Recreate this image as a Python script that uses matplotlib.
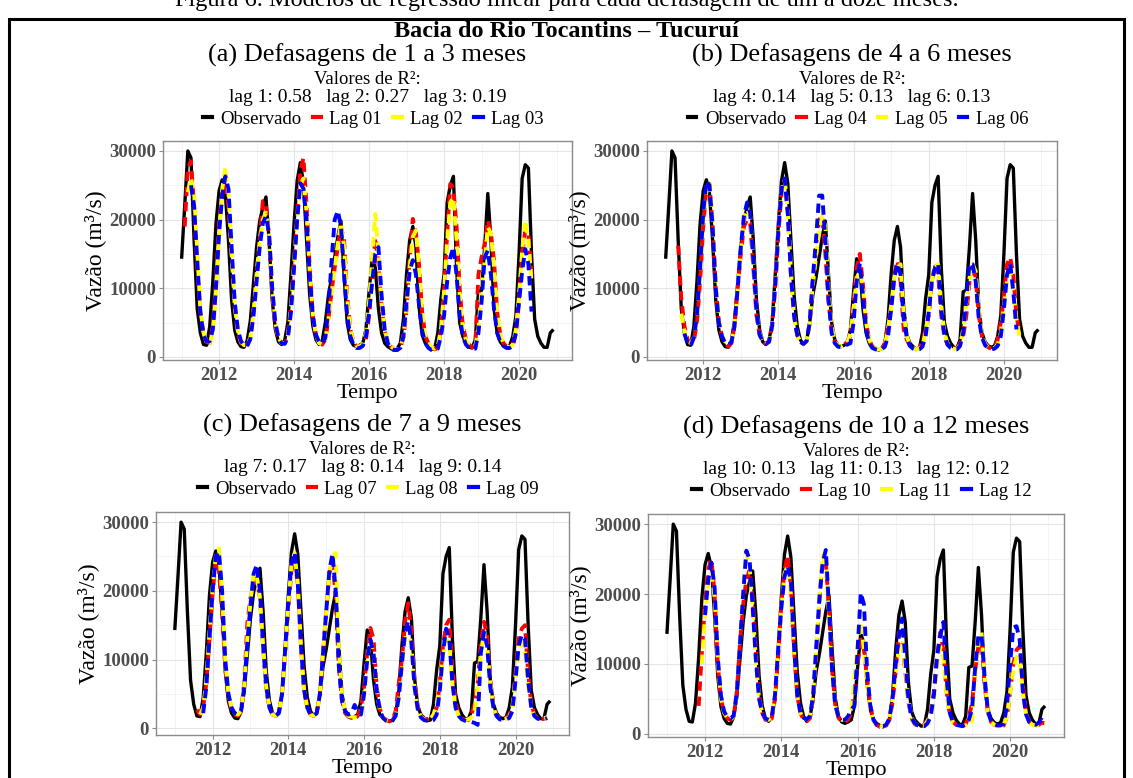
import numpy as np
import matplotlib
matplotlib.use("Agg")
import matplotlib.pyplot as plt
from matplotlib.lines import Line2D
from matplotlib.patches import Rectangle

plt.rcParams['font.family'] = ['Liberation Serif', 'DejaVu Serif']

N = np.nan
# monthly flow, thousands of m3/s, Jan 2011 .. Dec 2020 (one row per year)
obs = [
    [14.3, 22.0, 30.0, 29.0, 17.0, 7.0, 3.5, 1.8, 1.7, 4.4, 11.0, 19.4],
    [24.2, 25.8, 23.8, 17.0, 8.3, 3.9, 2.2, 1.5, 1.4, 2.4, 5.3, 10.7],
    [16.0, 19.8, 21.8, 23.3, 17.0, 8.3, 4.0, 2.2, 1.8, 2.4, 5.0, 12.0],
    [19.5, 25.7, 28.3, 25.3, 17.0, 9.0, 4.5, 2.5, 1.8, 2.3, 5.0, 9.0],
    [11.5, 14.5, 17.5, 19.8, 12.0, 5.0, 2.5, 1.7, 1.5, 1.7, 2.0, 4.0],
    [9.5, 14.3, 13.0, 7.0, 3.5, 2.0, 1.5, 1.2, 1.0, 1.2, 2.0, 5.5],
    [12.1, 17.0, 19.0, 16.0, 7.3, 3.2, 2.0, 1.5, 1.1, 1.2, 3.5, 8.5],
    [12.0, 22.5, 25.0, 26.3, 13.0, 5.0, 3.0, 2.0, 1.4, 1.3, 2.5, 9.5],
    [9.7, 16.0, 23.8, 17.0, 7.0, 3.5, 2.2, 1.6, 1.4, 1.6, 3.0, 6.0],
    [15.0, 26.0, 28.0, 27.5, 15.0, 5.5, 3.0, 2.0, 1.4, 1.4, 3.5, 4.0],
]

lag01 = [
    [N, 19.0, 27.5, 28.5, 22.0, 13.0, 6.5, 3.5, 2.2, 2.0, 4.5, 11.0],
    [19.5, 24.0, 25.0, 22.0, 14.5, 7.0, 3.5, 2.0, 1.6, 1.7, 3.0, 6.5],
    [12.0, 17.0, 22.7, 22.0, 17.5, 9.0, 4.5, 2.5, 2.0, 2.0, 3.0, 7.5],
    [14.0, 21.0, 27.0, 29.0, 22.0, 13.0, 6.0, 3.2, 2.0, 1.8, 2.5, 5.5],
    [9.5, 13.0, 16.0, 19.0, 17.0, 9.0, 4.0, 2.2, 1.6, 1.5, 1.8, 2.5],
    [6.0, 11.5, 17.4, 13.5, 7.5, 3.8, 2.2, 1.5, 1.2, 1.0, 1.3, 2.8],
    [7.0, 14.5, 20.1, 18.0, 13.5, 6.5, 3.0, 2.0, 1.4, 1.1, 1.3, 4.0],
    [9.5, 18.0, 25.2, 24.5, 19.0, 10.0, 4.5, 2.6, 1.8, 1.4, 1.5, 12.0],
    [14.5, 16.5, 19.9, 18.0, 14.0, 6.5, 3.2, 2.0, 1.5, 1.4, 1.7, 3.5],
    [8.5, 15.0, 18.5, 18.0, 12.0, N, N, N, N, N, N, N],
]
lag02 = [
    [N, N, 24.0, 26.0, 24.0, 15.5, 7.0, 3.5, 2.2, 2.0, 3.5, 9.0],
    [17.5, 24.5, 27.6, 24.0, 15.0, 7.5, 3.8, 2.2, 1.7, 1.7, 2.8, 6.5],
    [12.0, 17.0, 20.0, 21.0, 18.0, 10.0, 5.0, 2.8, 2.0, 2.0, 3.0, 7.0],
    [13.5, 20.0, 25.0, 26.0, 21.0, 12.5, 6.0, 3.2, 2.0, 1.8, 2.5, 5.5],
    [9.0, 13.0, 16.5, 19.5, 16.0, 8.5, 4.0, 2.2, 1.6, 1.5, 1.9, 3.5],
    [8.0, 14.5, 20.8, 15.0, 8.0, 4.0, 2.2, 1.5, 1.2, 1.0, 1.4, 3.0],
    [7.5, 13.0, 17.5, 18.4, 13.0, 6.5, 3.0, 2.0, 1.4, 1.2, 1.5, 4.0],
    [9.5, 17.0, 22.5, 23.2, 17.0, 9.0, 4.2, 2.5, 1.7, 1.4, 1.6, 4.0],
    [10.0, 14.0, 18.9, 18.0, 13.0, 6.5, 3.2, 2.0, 1.5, 1.4, 1.8, 4.0],
    [9.0, 15.5, 19.9, 17.0, 11.0, N, N, N, N, N, N, N],
]
lag03 = [
    [N, N, N, 25.0, 22.0, 14.0, 6.5, 3.2, 2.3, 2.3, 4.0, 10.0],
    [18.0, 23.5, 26.3, 24.5, 16.0, 8.0, 4.0, 2.3, 1.7, 1.6, 2.6, 6.0],
    [11.0, 16.0, 19.5, 20.5, 18.0, 10.0, 5.0, 2.8, 2.0, 1.9, 2.8, 6.5],
    [13.0, 20.0, 25.3, 24.5, 20.0, 12.0, 6.0, 3.2, 2.2, 1.9, 2.8, 7.0],
    [14.0, 20.0, 21.3, 19.0, 12.0, 6.0, 3.0, 1.8, 1.3, 1.3, 1.6, 3.0],
    [6.5, 11.0, 15.0, 16.0, 9.0, 4.0, 2.0, 1.2, 1.0, 1.0, 1.3, 3.0],
    [8.0, 12.5, 14.1, 12.0, 7.5, 3.8, 2.0, 1.3, 1.0, 1.0, 1.2, 3.0],
    [6.0, 11.0, 14.5, 16.0, 12.0, 6.0, 3.0, 1.8, 1.3, 1.1, 1.2, 3.5],
    [8.0, 14.5, 15.5, 12.0, 7.0, 3.5, 2.2, 1.6, 1.3, 1.3, 1.6, 3.5],
    [8.0, 12.5, 15.7, 13.5, 6.6, N, N, N, N, N, N, N],
]
lag04 = [
    [N, N, N, N, 16.2, 8.5, 4.5, 2.5, 2.0, 2.3, 5.0, 11.0],
    [19.0, 24.5, 25.2, 19.0, 10.0, 5.0, 3.0, 2.0, 1.5, 2.0, 4.5, 10.0],
    [15.0, 19.0, 20.0, 19.5, 13.0, 6.0, 3.2, 2.2, 1.9, 2.2, 4.5, 10.5],
    [18.0, 24.0, 25.8, 21.0, 12.0, 6.0, 3.2, 2.2, 1.9, 2.3, 5.0, 11.0],
    [16.0, 20.0, 20.5, 15.0, 8.0, 4.0, 2.3, 1.6, 1.5, 1.8, 2.2, 3.0],
    [8.0, 13.0, 15.0, 10.5, 5.0, 2.5, 1.5, 1.2, 1.1, 1.2, 2.0, 4.5],
    [7.0, 12.0, 14.0, 11.0, 4.0, 2.5, 1.6, 1.2, 1.1, 1.3, 2.2, 4.0],
    [6.0, 11.0, 13.5, 12.0, 6.0, 3.0, 1.8, 1.4, 1.2, 1.3, 2.0, 3.0],
    [6.0, 11.0, 13.5, 11.5, 6.0, 3.0, 1.8, 1.4, 1.2, 1.5, 2.5, 5.0],
    [9.0, 13.5, 14.5, 12.0, 6.0, 3.5, N, N, N, N, N, N],
]
lag05 = [
    [N, N, N, N, N, 6.3, 3.8, 2.3, 2.0, 2.8, 5.5, 12.0],
    [20.0, 24.0, 25.6, 20.5, 11.0, 5.5, 3.2, 2.2, 1.9, 2.2, 4.5, 10.0],
    [15.5, 20.0, 21.5, 20.5, 14.0, 6.5, 3.5, 2.2, 1.9, 2.2, 4.5, 10.5],
    [18.5, 24.5, 25.8, 21.5, 12.5, 6.0, 3.2, 2.2, 1.9, 2.3, 5.0, 10.5],
    [14.5, 18.5, 20.5, 19.0, 10.0, 4.5, 2.3, 1.6, 1.5, 1.7, 2.0, 3.5],
    [7.0, 11.5, 12.5, 10.0, 5.0, 2.5, 1.5, 1.2, 1.1, 1.2, 1.8, 4.0],
    [7.5, 11.5, 13.0, 13.5, 6.5, 3.0, 1.7, 1.3, 1.1, 1.2, 1.8, 3.5],
    [7.0, 11.0, 13.0, 13.5, 7.5, 3.5, 2.0, 1.4, 1.2, 1.2, 1.7, 4.0],
    [8.0, 11.5, 13.5, 12.5, 7.0, 3.2, 1.9, 1.4, 1.2, 1.3, 1.8, 3.5],
    [7.5, 11.0, 12.5, 10.0, 5.5, 3.0, 2.5, N, N, N, N, N],
]
lag06 = [
    [N, N, N, N, N, N, 3.4, 2.0, 1.6, 2.8, 6.0, 13.0],
    [21.0, 25.6, 25.0, 19.0, 10.0, 5.0, 3.0, 2.0, 1.8, 2.1, 4.5, 10.0],
    [16.0, 20.5, 22.5, 21.0, 14.0, 6.5, 3.3, 2.2, 1.9, 2.2, 4.5, 10.5],
    [18.5, 24.5, 26.0, 21.0, 12.0, 6.0, 3.2, 2.2, 1.9, 2.3, 5.0, 11.5],
    [17.0, 23.5, 23.5, 17.0, 8.5, 3.5, 2.0, 1.5, 1.4, 1.6, 1.8, 2.0],
    [5.0, 11.0, 13.6, 9.0, 4.0, 2.0, 1.3, 1.1, 1.0, 1.1, 1.5, 3.0],
    [7.0, 11.5, 13.6, 12.0, 5.5, 2.8, 1.6, 1.2, 1.0, 1.1, 1.5, 3.0],
    [6.5, 11.0, 13.0, 13.6, 7.0, 3.2, 1.8, 1.3, 1.1, 1.1, 1.6, 3.5],
    [8.5, 13.6, 13.5, 11.0, 5.5, 2.8, 1.7, 1.3, 1.1, 1.2, 1.6, 3.0],
    [7.0, 12.0, 13.6, 9.5, 4.0, N, N, N, N, N, N, N],
]
lag07 = [
    [N, N, N, N, N, N, N, 2.7, 2.0, 3.0, 6.5, 13.0],
    [19.7, 24.5, 23.0, 17.0, 9.0, 4.5, 2.8, 2.0, 1.8, 2.5, 6.5, 15.3],
    [19.0, 21.0, 21.6, 19.0, 12.0, 5.5, 3.0, 2.0, 1.8, 2.3, 5.0, 11.0],
    [17.5, 23.0, 24.5, 21.0, 12.0, 5.5, 3.0, 2.0, 1.8, 2.3, 5.0, 11.0],
    [17.0, 22.5, 24.5, 19.0, 9.0, 4.0, 2.2, 1.7, 1.5, 1.4, 1.8, 3.0],
    [6.0, 11.0, 14.6, 13.0, 6.0, 2.8, 1.6, 1.2, 1.0, 1.2, 2.5, 6.5],
    [10.0, 15.5, 18.2, 14.0, 7.0, 3.2, 1.8, 1.4, 1.3, 1.5, 2.0, 3.0],
    [6.5, 12.0, 15.0, 15.8, 8.5, 3.8, 2.0, 1.5, 1.2, 1.2, 2.0, 3.5],
    [6.5, 12.5, 15.5, 13.5, 7.0, 3.2, 1.8, 1.4, 1.3, 1.5, 2.0, 3.0],
    [8.0, 13.0, 14.5, 15.0, 8.0, 3.5, 2.0, 1.5, 1.3, 1.4, 1.5, N],
]
lag08 = [
    [N, N, N, N, N, N, N, N, 2.0, 3.0, 7.0, 14.0],
    [20.5, 25.0, 26.2, 19.5, 10.0, 5.0, 3.0, 2.2, 2.0, 2.5, 6.0, 13.0],
    [18.5, 22.5, 22.0, 19.0, 12.0, 6.0, 3.0, 2.0, 1.8, 2.2, 5.0, 11.0],
    [18.0, 24.0, 25.5, 21.0, 12.0, 5.5, 3.0, 2.0, 1.8, 2.2, 5.0, 11.0],
    [17.0, 22.5, 25.0, 25.5, 12.0, 5.0, 2.5, 1.8, 1.7, 1.6, 1.6, 1.8],
    [5.0, 10.0, 12.9, 11.0, 5.5, 2.6, 1.5, 1.1, 1.0, 1.1, 1.8, 4.5],
    [9.0, 13.0, 14.7, 12.0, 6.0, 2.8, 1.7, 1.3, 1.2, 1.4, 2.0, 3.5],
    [6.0, 10.5, 13.0, 12.5, 6.5, 3.0, 1.8, 1.4, 1.2, 1.3, 1.6, 2.5],
    [6.0, 11.0, 13.5, 12.0, 6.5, 3.0, 1.8, 1.4, 1.3, 1.4, 1.6, 3.0],
    [7.5, 11.0, 12.5, 11.0, 6.0, 3.0, 1.8, 1.4, 1.4, 1.5, 1.6, N],
]
lag09 = [
    [N, N, N, N, N, N, N, N, N, 2.2, 6.0, 13.0],
    [20.0, 25.0, 25.7, 20.0, 10.0, 5.0, 3.0, 2.2, 2.0, 2.5, 6.0, 12.5],
    [18.0, 22.5, 23.8, 20.0, 12.0, 6.0, 3.0, 2.0, 1.8, 2.2, 5.0, 11.5],
    [18.5, 24.0, 25.6, 21.0, 12.0, 5.5, 3.0, 2.0, 1.8, 2.2, 5.0, 11.0],
    [17.0, 23.0, 25.4, 20.0, 9.0, 4.0, 2.5, 2.0, 2.2, 3.4, 2.5, 2.0],
    [5.0, 10.0, 12.9, 11.0, 5.5, 2.6, 1.5, 1.1, 1.0, 1.1, 1.8, 4.5],
    [9.5, 14.0, 15.6, 12.5, 6.0, 2.8, 1.6, 1.2, 1.1, 1.0, 1.2, 2.0],
    [5.5, 11.0, 14.5, 13.0, 6.5, 3.0, 1.8, 1.3, 1.1, 1.0, 0.9, 0.8],
    [0.5, 11.0, 14.0, 12.0, 6.0, 3.0, 1.8, 1.3, 1.2, 1.3, 1.5, 2.5],
    [7.0, 12.0, 13.6, 13.0, 7.0, 3.0, 1.8, 1.4, 1.3, 1.3, 1.5, N],
]
lag10 = [
    [N, N, N, N, N, N, N, N, N, N, 4.0, 11.6],
    [19.0, 23.5, 25.0, 20.0, 10.0, 5.0, 3.0, 2.2, 2.0, 2.5, 6.0, 13.0],
    [18.5, 22.0, 23.4, 19.5, 12.0, 5.5, 3.0, 2.0, 1.8, 2.2, 5.0, 11.0],
    [18.5, 23.5, 25.5, 21.0, 12.0, 5.5, 3.0, 2.0, 1.8, 2.2, 5.0, 11.5],
    [19.0, 25.0, 24.5, 18.0, 9.0, 4.0, 2.3, 1.8, 1.7, 2.0, 3.0, 6.0],
    [10.0, 13.5, 12.0, 8.0, 4.0, 2.0, 1.3, 1.0, 1.0, 1.2, 2.0, 4.5],
    [9.0, 14.5, 13.5, 9.0, 4.5, 2.2, 1.4, 1.1, 1.1, 1.3, 2.0, 3.0],
    [6.0, 11.0, 14.5, 12.0, 6.0, 2.8, 1.7, 1.3, 1.1, 1.1, 1.4, 2.5],
    [4.3, 9.0, 12.5, 13.0, 7.0, 3.0, 1.7, 1.3, 1.1, 1.0, 1.2, 2.5],
    [6.0, 10.0, 12.0, 12.5, 7.0, 3.0, 1.7, 1.3, 1.2, 1.3, 1.6, 1.5],
]
lag11 = [
    [N, N, N, N, N, N, N, N, N, N, N, 10.0],
    [17.0, 21.5, 23.0, 19.5, 10.5, 5.0, 3.0, 2.3, 2.0, 2.5, 6.0, 13.5],
    [21.0, 26.0, 24.0, 18.0, 10.5, 5.0, 3.0, 2.2, 2.0, 2.5, 5.5, 12.0],
    [18.0, 23.0, 24.0, 20.0, 12.0, 5.5, 3.0, 2.3, 2.1, 2.5, 5.5, 12.5],
    [20.0, 25.5, 24.0, 17.0, 9.0, 4.0, 2.5, 2.0, 2.0, 2.5, 3.5, 8.0],
    [13.0, 16.0, 12.0, 7.0, 3.5, 1.8, 1.2, 1.1, 1.1, 1.3, 2.2, 5.0],
    [8.5, 12.5, 13.0, 9.5, 5.0, 2.3, 1.5, 1.2, 1.1, 1.2, 1.8, 2.8],
    [5.0, 9.5, 12.5, 11.0, 5.5, 2.6, 1.6, 1.2, 1.1, 1.1, 1.2, 1.5],
    [1.5, 8.5, 13.0, 14.5, 8.0, 3.0, 1.7, 1.3, 1.1, 1.0, 1.2, 2.5],
    [6.0, 9.0, 11.0, 10.0, 6.0, 2.8, 1.7, 1.3, 1.2, 1.3, 1.5, 1.5],
]
lag12 = [
    [N, N, N, N, N, N, N, N, N, N, N, N],
    [17.0, 22.0, 24.5, 21.0, 11.0, 5.5, 3.2, 2.4, 2.2, 2.6, 6.0, 13.0],
    [20.0, 26.2, 25.0, 18.0, 10.5, 5.0, 3.0, 2.2, 2.0, 2.5, 5.5, 12.0],
    [18.0, 22.5, 24.0, 22.0, 12.5, 5.5, 3.0, 2.3, 2.1, 2.5, 5.5, 12.5],
    [19.5, 24.5, 26.3, 18.0, 9.0, 4.0, 2.5, 2.0, 2.0, 2.5, 3.5, 4.0],
    [12.0, 20.2, 18.5, 9.0, 4.0, 2.0, 1.3, 1.1, 1.1, 1.3, 2.2, 5.0],
    [10.0, 14.0, 16.5, 11.0, 5.0, 2.3, 1.5, 1.2, 1.1, 1.1, 1.5, 2.5],
    [5.5, 11.0, 14.0, 16.0, 8.0, 3.0, 1.7, 1.3, 1.2, 1.1, 1.3, 2.0],
    [3.5, 9.5, 14.0, 14.2, 8.0, 3.2, 1.8, 1.4, 1.2, 1.2, 1.5, 4.0],
    [10.0, 15.2, 15.4, 13.5, 6.0, 2.8, 1.7, 1.4, 1.3, 1.6, 2.0, 1.6],
]

titles = ["(a) Defasagens de 1 a 3 meses", "(b) Defasagens de 4 a 6 meses",
          "(c) Defasagens de 7 a 9 meses", "(d) Defasagens de 10 a 12 meses"]
r2 = [[0.58, 0.27, 0.19], [0.14, 0.13, 0.13], [0.17, 0.14, 0.14], [0.13, 0.13, 0.12]]
lags = [[lag01, lag02, lag03], [lag04, lag05, lag06],
        [lag07, lag08, lag09], [lag10, lag11, lag12]]

W, H = 1133, 778
fig = plt.figure(figsize=(W / 100, H / 100), dpi=100)

def fy(y):
    return 1 - y / H

# caption (cut at the top, as in the source page) + outer frame
fig.text(0.5, fy(6), "Figura 6. Modelos de regressão linear para cada defasagem de um a doze meses.",
         ha='center', va='baseline', fontsize=17.5)
fig.add_artist(Rectangle((9 / W, -0.05), 1115 / W, fy(19) + 0.05, transform=fig.transFigure,
                         fill=False, edgecolor='black', lw=2.2, clip_on=False))
fig.text(0.5, fy(37), "Bacia do Rio Tocantins – Tucuruí", ha='center', va='baseline',
         fontsize=17.5, fontweight='bold')

# panel frames in pixels: left, top, right, bottom
boxes = [(163, 141, 572, 360), (647, 141, 1057, 360),
         (156, 512, 569, 735), (648, 514, 1064, 737)]
head_y = [55, 55, 425, 427]

t = 2011 + np.arange(120) / 12.0
colors = ['#FF0000', '#FFFF00', '#0000FF']
gray = '#4D4D4D'

for k in range(4):
    l, tp, r, b = boxes[k]
    ax = fig.add_axes([l / W, fy(b), (r - l) / W, (b - tp) / H])
    y_obs = np.ravel(obs) * 1000
    ax.plot(t, y_obs, color='black', lw=2.4, solid_capstyle='butt', zorder=3)
    allv = [y_obs]
    for j in range(3):
        y = np.ravel(lags[k][j]) * 1000
        allv.append(y)
        ax.plot(t, y, color=colors[j], lw=2.8, dashes=(2.4, 1.5), zorder=4 + j)
    allv = np.concatenate(allv)
    lo, hi = np.nanmin(allv), np.nanmax(allv)
    pad = 0.05 * (hi - lo)
    ax.set_ylim(lo - pad, hi + pad)
    ax.set_xlim(t[0] - 0.05 * (t[-1] - t[0]), t[-1] + 0.05 * (t[-1] - t[0]))
    ax.set_yticks([0, 10000, 20000, 30000])
    ax.set_yticks([5000, 15000, 25000], minor=True)
    ax.set_xticks([2012, 2014, 2016, 2018, 2020])
    ax.set_xticks([2011, 2013, 2015, 2017, 2019, 2021], minor=True)
    ax.grid(True, which='major', color='#E5E5E5', lw=0.8)
    ax.grid(True, which='minor', color='#F2F2F2', lw=0.6)
    ax.set_axisbelow(True)
    for s in ax.spines.values():
        s.set_color('#8C8C8C')
        s.set_linewidth(1.0)
    ax.tick_params(which='major', length=3, color='#8C8C8C', labelcolor=gray, labelsize=13.5, pad=2)
    ax.tick_params(which='minor', length=0)
    for lab in ax.get_xticklabels() + ax.get_yticklabels():
        lab.set_fontweight('bold')
    ax.set_ylabel("Vazão (m³/s)", fontsize=17, labelpad=2)
    ax.set_xlabel("Tempo", fontsize=16, labelpad=0)

    cx = (l + r) / 2 / W
    hy = head_y[k]
    fig.text(cx, fy(hy), titles[k], ha='center', va='center', fontsize=19)
    fig.text(cx, fy(hy + 24), "Valores de R²:", ha='center', va='center', fontsize=13.5)
    first = 3 * k + 1
    r2txt = "   ".join("lag %d: %.2f" % (first + j, r2[k][j]) for j in range(3))
    fig.text(cx, fy(hy + 43), r2txt, ha='center', va='center', fontsize=14)

    handles = [Line2D([], [], color='black', lw=3)] + [Line2D([], [], color=c, lw=3) for c in colors]
    labels = ["Observado"] + ["Lag %02d" % (first + j) for j in range(3)]
    fig.legend(handles, labels, ncol=4, loc='center', bbox_to_anchor=(cx + 6 / W, fy(hy + 64)),
               frameon=False, fontsize=13.5, handlelength=0.45, handletextpad=0.45,
               columnspacing=0.6, borderpad=0, borderaxespad=0)

fig.savefig("out.png", dpi=100)
